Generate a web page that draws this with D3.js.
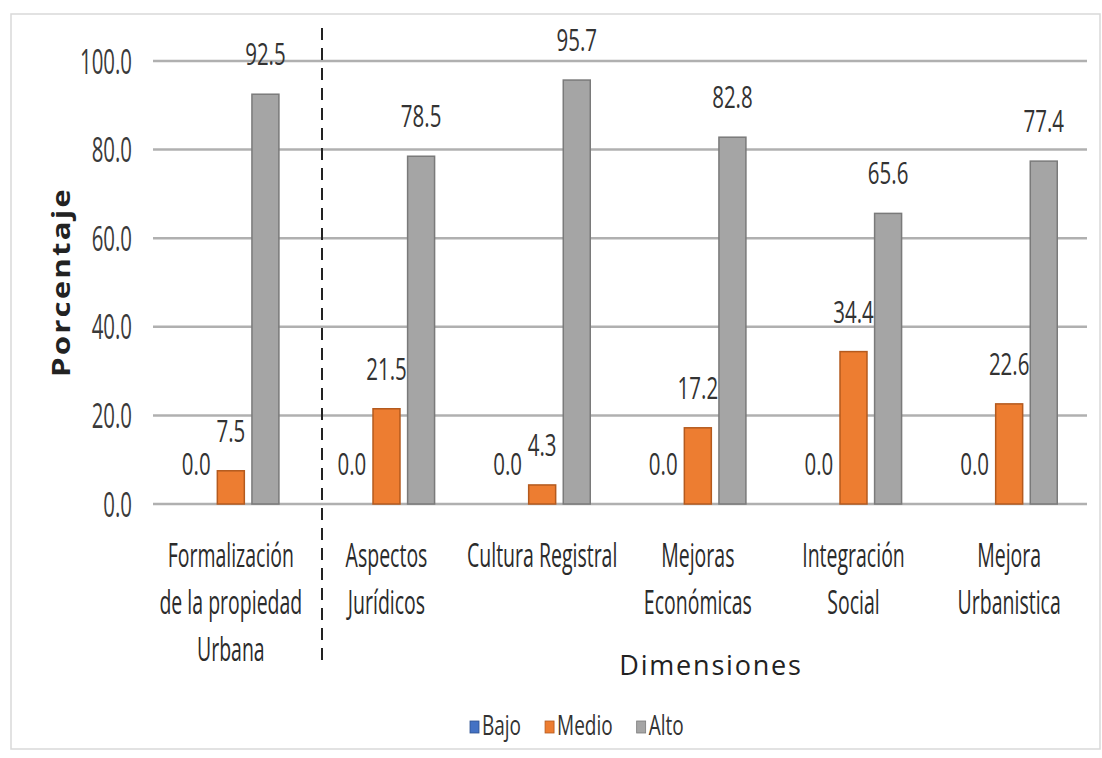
<!DOCTYPE html>
<html>
<head>
<meta charset="utf-8">
<script src="https://cdn.jsdelivr.net/npm/d3@7"></script>
<style>
  html, body { margin: 0; padding: 0; background: #fff; }
  svg { display: block; }
  text { font-family: 'Open Sans', 'Noto Sans', sans-serif; }
</style>
</head>
<body>
<svg id="chart" width="1102" height="758"></svg>
<script>
// ---- data ----
const categories = [
  ["Formalización", "de la propiedad", "Urbana"],
  ["Aspectos", "Jurídicos"],
  ["Cultura Registral"],
  ["Mejoras", "Económicas"],
  ["Integración", "Social"],
  ["Mejora", "Urbanistica"]
];
const seriesNames = ["Bajo", "Medio", "Alto"];
const bajo  = [0.0, 0.0, 0.0, 0.0, 0.0, 0.0];
const medio = [7.5, 21.5, 4.3, 17.2, 34.4, 22.6];
const alto  = [92.5, 78.5, 95.7, 82.8, 65.6, 77.4];
const yTicks = [0, 20, 40, 60, 80, 100];
const colors = { Bajo: "#4472c4", Medio: "#ed7d31", Alto: "#a5a5a5" };
const strokes = { Bajo: "#2f528f", Medio: "#b45a1e", Alto: "#7a7a7a" };

const seriesValues = { Bajo: bajo, Medio: medio, Alto: alto };

const svg = d3.select("#chart");

// frame
svg.append("rect").attr("x", 11).attr("y", 14).attr("width", 1089).attr("height", 735)
  .attr("fill", "#fff").attr("stroke", "#d9d9d9").attr("stroke-width", 1.5);

const mLeft = 153, mRight = 1087, mTop = 61, mBottom = 504;
const catIdx = categories.map((d, i) => i);
const x0 = d3.scaleBand().domain(catIdx).range([mLeft, mRight]).paddingInner(0).paddingOuter(0);
const x1 = d3.scaleBand().domain(seriesNames).range([0, x0.bandwidth()])
  .paddingInner(0.22).paddingOuter(0.86);
const y = d3.scaleLinear().domain([0, 100]).range([mBottom, mTop]);

// stretched text helper (baseline at y)
function stext(g, x, yy, str, o) {
  return g.append("text")
    .attr("transform", `translate(${x},${yy}) scale(${o.sx || 1},${o.sy || 1})`)
    .attr("text-anchor", o.anchor || "middle")
    .attr("font-size", o.size)
    .attr("font-weight", o.weight || "normal")
    .attr("letter-spacing", o.ls || 0)
    .attr("fill", o.fill || "#333")
    .text(str);
}

// gridlines
const grid = svg.append("g");
grid.selectAll("line").data(yTicks).join("line")
  .attr("x1", mLeft).attr("x2", mRight)
  .attr("y1", d => y(d)).attr("y2", d => y(d))
  .attr("stroke", "#b0b0b0").attr("stroke-width", 2.5);

// y tick labels
const yAxisG = svg.append("g");
yTicks.forEach(t => {
  stext(yAxisG, 132, y(t) + 12.5, d3.format(".1f")(t), { size: 20.4, sy: 1.7, anchor: "end", fill: "#3a3a3a" });
});

// bars
const barsG = svg.append("g");
seriesNames.forEach(s => {
  barsG.append("g").selectAll("rect").data(seriesValues[s]).join("rect")
    .attr("x", (d, i) => x0(i) + x1(s))
    .attr("width", x1.bandwidth())
    .attr("y", d => y(d))
    .attr("height", d => y(0) - y(d))
    .attr("fill", colors[s])
    .attr("stroke", d => d > 0 ? strokes[s] : "none")
    .attr("stroke-width", 1.5);
});

// value labels
const labG = svg.append("g");
seriesNames.forEach(s => {
  seriesValues[s].forEach((v, i) => {
    const cx = x0(i) + x1(s) + x1.bandwidth() / 2;
    stext(labG, cx, y(v) - 29, d3.format(".1f")(v), { size: 20.5, sy: 1.55, fill: "#333" });
  });
});

// category labels
const catG = svg.append("g");
categories.forEach((lines, i) => {
  const cx = x0(i) + x0.bandwidth() / 2;
  lines.forEach((ln, j) => {
    stext(catG, cx, 567 + j * 47, ln, { size: 19.5, sy: 1.7, fill: "#2b2b2b" });
  });
});

// dashed separator
svg.append("line").attr("x1", 322).attr("x2", 322).attr("y1", 28).attr("y2", 667)
  .attr("stroke", "#222").attr("stroke-width", 2).attr("stroke-dasharray", "12,8");

// axis titles
svg.append("text")
  .attr("transform", "translate(70,282) rotate(-90) scale(1.42,1.1)")
  .attr("text-anchor", "middle").attr("font-size", 22).attr("font-weight", "bold")
  .attr("letter-spacing", 1.5).attr("fill", "#222").text("Porcentaje");

svg.append("text").attr("x", 711).attr("y", 675).attr("text-anchor", "middle")
  .attr("font-size", 27).attr("letter-spacing", 1.8).attr("fill", "#222").text("Dimensiones");

// legend
const legG = svg.append("g");
let lx = 470;
seriesNames.forEach(s => {
  legG.append("rect").attr("x", lx).attr("y", 721).attr("width", 9).attr("height", 12)
    .attr("fill", colors[s]).attr("stroke", strokes[s]).attr("stroke-width", 0.8);
  const t = stext(legG, lx + 12, 735, s, { size: 19, sy: 1.4, anchor: "start", fill: "#333" });
  lx += 12 + t.node().getComputedTextLength() + 24;
});
</script>
</body>
</html>
